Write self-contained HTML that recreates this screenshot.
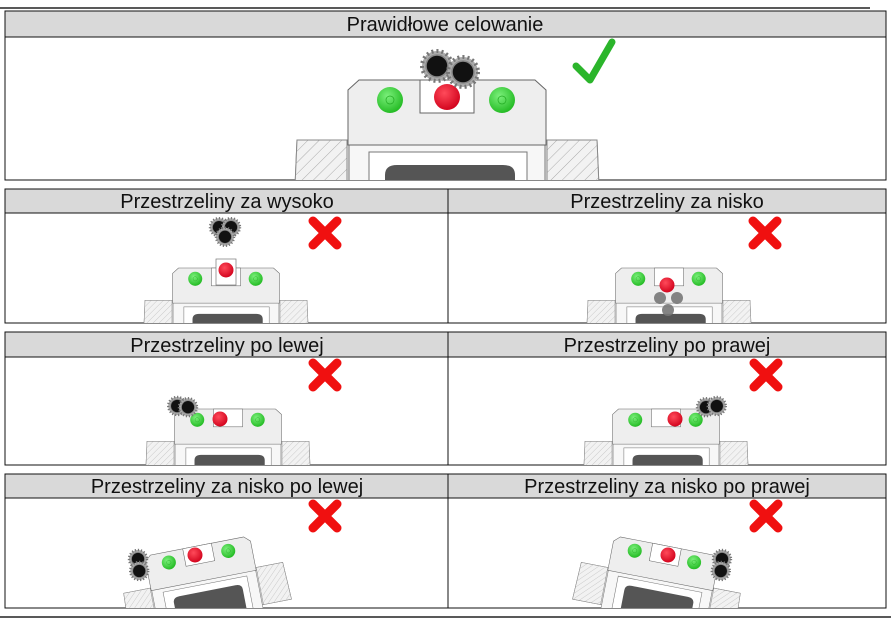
<!DOCTYPE html>
<html><head><meta charset="utf-8"><style>
html,body{margin:0;padding:0;background:#fff;width:891px;height:623px;overflow:hidden}
svg text{font-family:"Liberation Sans",sans-serif;font-size:20px;fill:#111}
</style></head><body>
<svg width="891" height="623" viewBox="0 0 891 623" xmlns="http://www.w3.org/2000/svg">
<defs>
<radialGradient id="g" cx="0.4" cy="0.35" r="0.7"><stop offset="0" stop-color="#7cf07c"/><stop offset="1" stop-color="#1fb81f"/></radialGradient>
<radialGradient id="r" cx="0.4" cy="0.35" r="0.7"><stop offset="0" stop-color="#ff4a5a"/><stop offset="1" stop-color="#d0001a"/></radialGradient>
<pattern id="h" width="8" height="8" patternUnits="userSpaceOnUse" patternTransform="rotate(45)"><rect width="8" height="8" fill="#f2f2f2"/><line x1="0" y1="0" x2="0" y2="8" stroke="#aaa" stroke-width="1"/></pattern>
<g id="sight">
  <path d="M-150,60 L150,60 L153,130 L-153,130 Z" fill="#eee" stroke="#888"/>
  <path d="M-150,60 L-100,60 L-100,130 L-153,130 Z" fill="url(#h)" stroke="#888"/>
  <path d="M150,60 L100,60 L100,130 L153,130 Z" fill="url(#h)" stroke="#888"/>
  <rect x="-98" y="60" width="196" height="80" fill="#f7f7f7" stroke="#777"/>
  <rect x="-78" y="72" width="158" height="70" fill="#fff" stroke="#777"/>
  <path d="M-62,140 L-62,95 Q-62,85 -50,85 L56,85 Q68,85 68,95 L68,140 Z" fill="#555"/>
  <path d="M-99,10 L-88,0 L88,0 L99,10 L99,65 L-99,65 Z" fill="#eee" stroke="#666"/>
  <rect x="-27" y="0" width="54" height="33" fill="#fff" stroke="#666"/>
  <circle cx="-57" cy="20" r="13" fill="url(#g)"/><circle cx="-57" cy="20" r="4" fill="none" stroke="#2a2" stroke-width="0.7"/>
  <circle cx="55" cy="20" r="13" fill="url(#g)"/><circle cx="55" cy="20" r="4" fill="none" stroke="#2a2" stroke-width="0.7"/>
</g>
<g id="hole"><circle r="15" fill="#aaa" stroke="#777" stroke-dasharray="2 3" stroke-width="4"/><circle r="11" fill="#111" stroke="#888" stroke-width="1.5"/></g>
<g id="x"><path d="M-12,-12 L12,12 M12,-12 L-12,12" stroke="#f01010" stroke-width="9" stroke-linecap="round"/></g>
<clipPath id="c0"><rect x="5" y="37" width="881" height="143"/></clipPath>
<clipPath id="c1"><rect x="5" y="213" width="443" height="110"/></clipPath>
<clipPath id="c2"><rect x="448" y="213" width="438" height="110"/></clipPath>
<clipPath id="c3"><rect x="5" y="357" width="443" height="108"/></clipPath>
<clipPath id="c4"><rect x="448" y="357" width="438" height="108"/></clipPath>
<clipPath id="c5"><rect x="5" y="498" width="443" height="110"/></clipPath>
<clipPath id="c6"><rect x="448" y="498" width="438" height="110"/></clipPath>
</defs>
<line x1="0" y1="8" x2="870" y2="8" stroke="#222" stroke-width="1.5"/>
<line x1="0" y1="617" x2="891" y2="617" stroke="#222" stroke-width="1.5"/>
<rect x="5" y="11" width="881" height="26" fill="#d9d9d9" stroke="#111"/>
<rect x="5" y="37" width="881" height="143" fill="#fff" stroke="#111"/>
<text x="445" y="31" text-anchor="middle">Prawidłowe celowanie</text>
<g clip-path="url(#c0)">
<use href="#sight" transform="translate(447,80)"/>
<circle cx="447" cy="97" r="13" fill="url(#r)"/>
<use href="#hole" transform="translate(437,66)"/><use href="#hole" transform="translate(463,72)"/>
<path d="M576,66 L590,80 L612,42" fill="none" stroke="#2bb52b" stroke-width="7" stroke-linecap="round" stroke-linejoin="round"/>
</g>
<g>
<rect x="5" y="189" width="881" height="24" fill="#d9d9d9" stroke="#111"/>
<rect x="5" y="213" width="881" height="110" fill="#fff" stroke="#111"/>
<line x1="448" y1="189" x2="448" y2="323" stroke="#111"/>
<text x="227" y="208" text-anchor="middle">Przestrzeliny za wysoko</text>
<text x="667" y="208" text-anchor="middle">Przestrzeliny za nisko</text>
<rect x="5" y="332" width="881" height="25" fill="#d9d9d9" stroke="#111"/>
<rect x="5" y="357" width="881" height="108" fill="#fff" stroke="#111"/>
<line x1="448" y1="332" x2="448" y2="465" stroke="#111"/>
<text x="227" y="352" text-anchor="middle">Przestrzeliny po lewej</text>
<text x="667" y="352" text-anchor="middle">Przestrzeliny po prawej</text>
<rect x="5" y="474" width="881" height="24" fill="#d9d9d9" stroke="#111"/>
<rect x="5" y="498" width="881" height="110" fill="#fff" stroke="#111"/>
<line x1="448" y1="474" x2="448" y2="608" stroke="#111"/>
<text x="227" y="493" text-anchor="middle">Przestrzeliny za nisko po lewej</text>
<text x="667" y="493" text-anchor="middle">Przestrzeliny za nisko po prawej</text>
</g>
<g clip-path="url(#c1)">
<use href="#sight" transform="translate(226,268) scale(0.54)"/>
<rect x="216" y="259" width="20" height="26" fill="#fff" stroke="#777" stroke-width="0.7"/>
<circle cx="226" cy="270" r="7.5" fill="url(#r)"/>
<g transform="translate(225,232) scale(0.6)"><use href="#hole" x="-10" y="-8"/><use href="#hole" x="10" y="-8"/><use href="#hole" x="0" y="8"/></g>
<use href="#x" transform="translate(325,233)"/>
</g>
<g clip-path="url(#c2)">
<use href="#sight" transform="translate(669,268) scale(0.54)"/>
<circle cx="667" cy="285" r="7.5" fill="url(#r)"/>
<circle cx="660" cy="298" r="6" fill="#777" opacity="0.9"/><circle cx="677" cy="298" r="6" fill="#777" opacity="0.9"/><circle cx="668" cy="310" r="6" fill="#777" opacity="0.9"/>
<use href="#x" transform="translate(765,233)"/>
</g>
<g clip-path="url(#c3)">
<use href="#sight" transform="translate(228,409) scale(0.54)"/>
<circle cx="220" cy="419" r="7.5" fill="url(#r)"/>
<g transform="translate(182,406) scale(0.6)"><use href="#hole" x="-8" y="0"/><use href="#hole" x="10" y="2"/></g>
<use href="#x" transform="translate(325,375)"/>
</g>
<g clip-path="url(#c4)">
<use href="#sight" transform="translate(666,409) scale(0.54)"/>
<circle cx="675" cy="419" r="7.5" fill="url(#r)"/>
<g transform="translate(712,406) scale(0.6)"><use href="#hole" x="-10" y="2"/><use href="#hole" x="8" y="0"/></g>
<use href="#x" transform="translate(766,375)"/>
</g>
<g clip-path="url(#c5)">
<use href="#sight" transform="translate(197,546) rotate(-11) scale(0.54)"/>
<circle cx="195" cy="555" r="7.5" fill="url(#r)"/>
<g transform="translate(138,565) scale(0.6)"><use href="#hole" x="0" y="-10"/><use href="#hole" x="2" y="10"/></g>
<use href="#x" transform="translate(325,516)"/>
</g>
<g clip-path="url(#c6)">
<use href="#sight" transform="translate(667,546) rotate(11) scale(0.54)"/>
<circle cx="668" cy="555" r="7.5" fill="url(#r)"/>
<g transform="translate(722,565) scale(0.6)"><use href="#hole" x="0" y="-10"/><use href="#hole" x="-2" y="10"/></g>
<use href="#x" transform="translate(766,516)"/>
</g>
</svg>
</body></html>
